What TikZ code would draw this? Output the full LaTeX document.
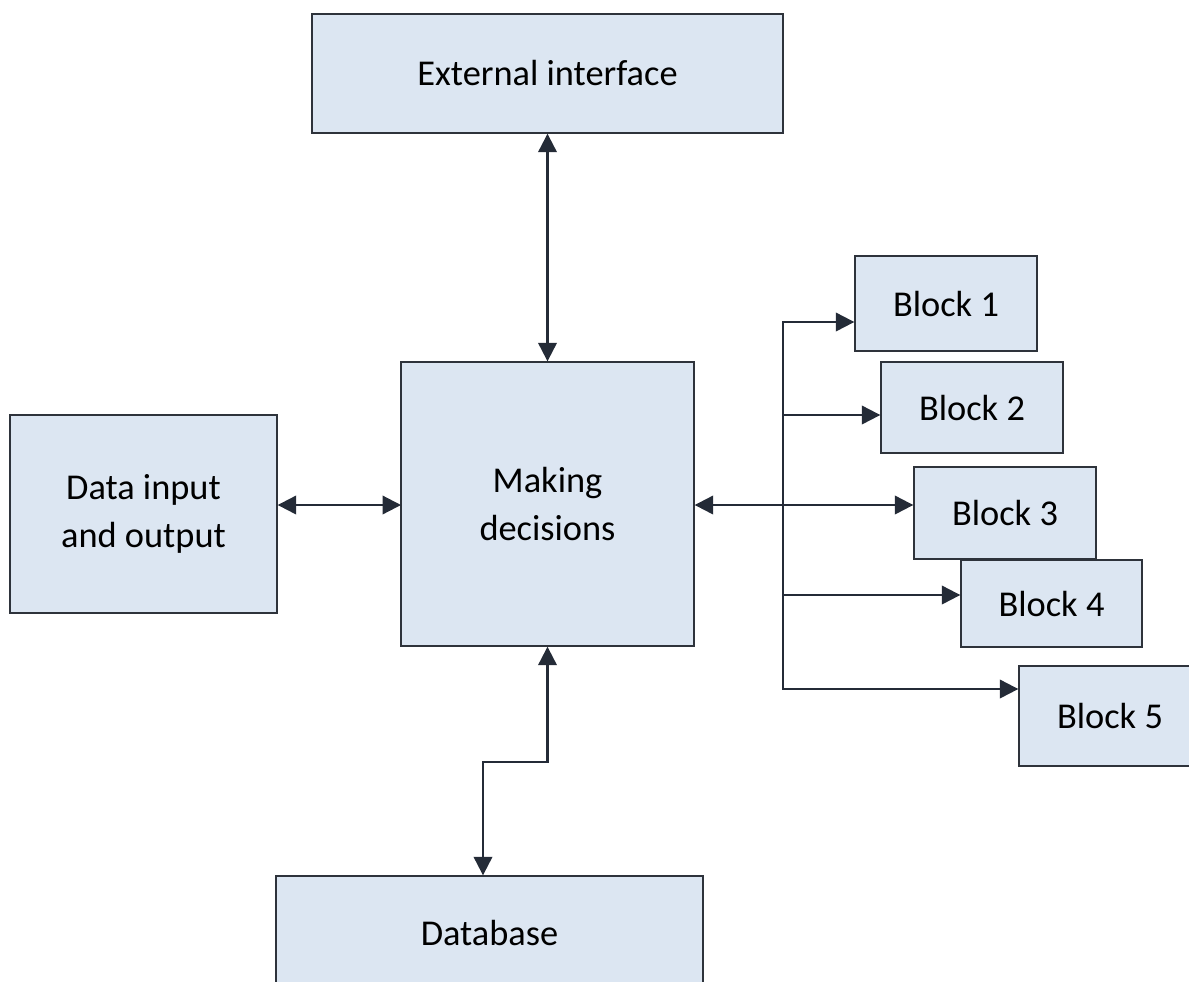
\documentclass[tikz,border=0pt]{standalone}
\usepackage{fontspec}
\setmainfont{Carlito}
\usetikzlibrary{arrows.meta}
\definecolor{azzurro}{HTML}{DCE6F2}
\definecolor{bordo}{HTML}{2E333B}
\definecolor{freccia}{HTML}{242B37}

\begin{document}
\begin{tikzpicture}[x=0.02cm,y=-0.02cm,
    blocco/.style={draw=bordo,line width=0.8pt,fill=azzurro,align=center,
        inner sep=0pt,font=\fontsize{20.7}{27.5}\selectfont},
    filo/.style={draw=freccia,line width=1.25pt,line join=miter},
    punta/.tip={Triangle[length=10.5pt,width=10.5pt]}]
    \clip (0,0) rectangle (1189,981);

    % blocchi principali
    \node[blocco,minimum width=9.42cm,minimum height=2.38cm] (ext) at (547.5,73.5) {External interface};
    \node[blocco,minimum width=5.86cm,minimum height=5.68cm] (dec) at (547.5,504) {Making\\decisions};
    \node[blocco,minimum width=5.34cm,minimum height=3.96cm] (dio) at (143.5,514) {Data input\\and output};
    \node[blocco,minimum width=8.54cm,minimum height=2.28cm] (db) at (489.5,933) {Database};

    % blocchi a destra
    \node[blocco,minimum width=3.64cm,minimum height=1.90cm] (b1) at (946,303.5) {Block 1};
    \node[blocco,minimum width=3.64cm,minimum height=1.82cm] (b2) at (972,407.5) {Block 2};
    \node[blocco,minimum width=3.64cm,minimum height=1.84cm] (b3) at (1005,513) {Block 3};
    \node[blocco,minimum width=3.62cm,minimum height=1.74cm] (b4) at (1051.5,603.5) {Block 4};
    \node[blocco,minimum width=3.64cm,minimum height=2.00cm] (b5) at (1110,716) {Block 5};

    % collegamenti verticali
    \draw[filo,punta-punta] (ext.south) -- (dec.north);
    \coordinate (gomito) at (483,762);
    \draw[filo,punta-punta] (dec.south) |- (gomito) -- (gomito |- db.north);

    % ingresso/uscita dati
    \coordinate (dati) at (401,505);
    \draw[filo,punta-punta] (dio.east |- dati) -- (dati);

    % bus verso i blocchi
    \coordinate (bus1) at (783,322);
    \coordinate (bus2) at (783,415);
    \coordinate (bus3) at (783,505);
    \coordinate (bus4) at (783,595);
    \coordinate (bus5) at (783,689);
    \draw[filo,punta-punta] (bus5 -| b5.west) -- (bus5) -- (bus1) -- (bus1 -| b1.west);
    \draw[filo,-punta] (bus2) -- (bus2 -| b2.west);
    \draw[filo,punta-punta] (dec.east |- bus3) -- (bus3 -| b3.west);
    \draw[filo,-punta] (bus4) -- (bus4 -| b4.west);
\end{tikzpicture}
\end{document}
